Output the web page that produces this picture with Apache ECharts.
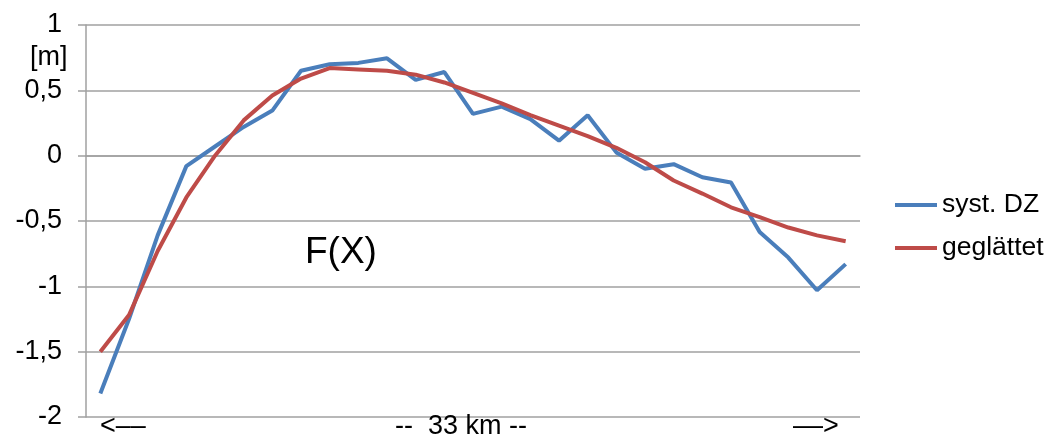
<!DOCTYPE html>
<html>
<head>
<meta charset="utf-8">
<script src="https://cdn.jsdelivr.net/npm/echarts@6/dist/echarts.min.js"></script>
<style>
  html, body { margin: 0; padding: 0; background: #fff; }
  #chart { width: 1055px; height: 434px; }
</style>
</head>
<body>
<div id="chart"></div>
<script>
// ---- data ----
const categories = ['1','2','3','4','5','6','7','8','9','10','11','12','13','14','15','16','17','18','19','20','21','22','23','24','25','26','27'];
const systDZ = [-1.82, -1.25, -0.61, -0.08, 0.07, 0.22, 0.345, 0.65, 0.70, 0.71, 0.745, 0.58, 0.64, 0.32, 0.375, 0.28, 0.115, 0.31, 0.025, -0.10, -0.065, -0.165, -0.205, -0.585, -0.78, -1.03, -0.83];
const geglaettet = [-1.50, -1.22, -0.73, -0.32, 0.0, 0.27, 0.46, 0.59, 0.67, 0.66, 0.65, 0.62, 0.56, 0.48, 0.40, 0.31, 0.23, 0.15, 0.06, -0.05, -0.19, -0.29, -0.395, -0.47, -0.55, -0.61, -0.655];
const seriesNames = ['syst. DZ', 'geglättet'];
const yUnit = '[m]';
const curveLabel = 'F(X)';
const xTexts = ['<––', '--  33 km --', '––>'];

const FONT = '"Liberation Sans", Arial, sans-serif';
const chart = echarts.init(document.getElementById('chart'));
chart.setOption({
  animation: false,
  backgroundColor: '#ffffff',
  grid: { left: 86, right: 195, top: 25, bottom: 17, containLabel: false },
  xAxis: {
    type: 'category',
    data: categories,
    boundaryGap: true,
    axisLine: { show: true, lineStyle: { color: '#a0a0a0', width: 1.5 } },
    axisTick: { show: false },
    axisLabel: { show: false },
    splitLine: { show: false }
  },
  yAxis: {
    type: 'value',
    min: -2, max: 1, interval: 0.5,
    axisLine: { show: true, lineStyle: { color: '#a0a0a0', width: 1.5 } },
    axisTick: { show: true, length: 8, lineStyle: { color: '#a0a0a0', width: 1.5 } },
    axisLabel: {
      margin: 24, color: '#000', fontSize: 27, fontFamily: FONT,
      formatter: v => String(v).replace('.', ',')
    },
    splitLine: { show: true, lineStyle: { color: '#a0a0a0', width: 1.5 } }
  },
  legend: {
    orient: 'vertical', left: 890, top: 186,
    itemWidth: 42, itemHeight: 4, itemGap: 15, icon: 'rect',
    textStyle: { color: '#000', fontSize: 26.5, fontFamily: FONT, lineHeight: 28 },
    data: seriesNames
  },
  graphic: [
    { type: 'text', left: 30, top: 44, z: 100, style: { text: yUnit, fill: '#000', font: '27px ' + FONT } },
    { type: 'text', left: 305, top: 234, z: 100, style: { text: curveLabel, fill: '#000', font: '37px ' + FONT } },
    { type: 'text', left: 100, top: 413, z: 100, style: { text: xTexts[0], fill: '#000', font: '27px ' + FONT } },
    { type: 'text', left: 395, top: 413, z: 100, style: { text: xTexts[1], fill: '#000', font: '27px ' + FONT } },
    { type: 'text', left: 793, top: 413, z: 100, style: { text: xTexts[2], fill: '#000', font: '27px ' + FONT } }
  ],
  series: [
    {
      name: seriesNames[0], type: 'line', data: systDZ,
      showSymbol: false, symbol: 'none',
      lineStyle: { color: '#4A7EBB', width: 4 }, itemStyle: { color: '#4A7EBB' },
      z: 2
    },
    {
      name: seriesNames[1], type: 'line', data: geglaettet,
      showSymbol: false, symbol: 'none',
      lineStyle: { color: '#BE4B48', width: 4 }, itemStyle: { color: '#BE4B48' },
      z: 3
    }
  ]
});
</script>
</body>
</html>
